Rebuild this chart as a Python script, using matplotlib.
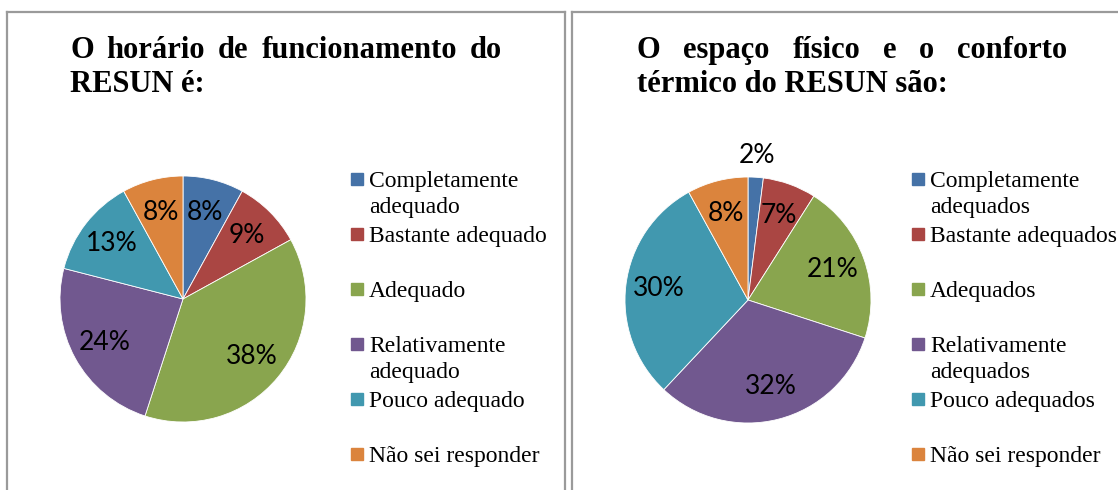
import numpy as np
import matplotlib.pyplot as plt
from matplotlib.patches import Rectangle
from matplotlib.lines import Line2D

W, H = 1118, 490

cores = ["#4572A7", "#AA4643", "#89A54E", "#71588F", "#4198AF", "#DB843D"]

horario_titulo = ["O horário de funcionamento do", "RESUN é:"]
horario_rotulos = ["Completamente\nadequado", "Bastante adequado", "Adequado",
                   "Relativamente\nadequado", "Pouco adequado", "Não sei responder"]
horario_pct = [8, 9, 38, 24, 13, 8]

espaco_titulo = ["O espaço físico e o conforto", "térmico do RESUN são:"]
espaco_rotulos = ["Completamente\nadequados", "Bastante adequados", "Adequados",
                  "Relativamente\nadequados", "Pouco adequados", "Não sei responder"]
espaco_pct = [2, 7, 21, 32, 30, 8]

fig = plt.figure(figsize=(W / 100, H / 100), dpi=100)
renderer = fig.canvas.get_renderer()


def px(x, y):
    # pixels a partir do canto superior esquerdo -> fração da figura
    return x / W, 1 - y / H


def linha(x0, y0, x1, y1):
    (a, b), (c, d) = px(x0, y0), px(x1, y1)
    fig.add_artist(Line2D([a, c], [b, d], transform=fig.transFigure,
                          color="#9a9a9a", linewidth=1.6))


# molduras dos dois quadros
linha(7, 12, 7, H)
linha(7, 12, 565, 12)
linha(565, 12, 565, H)
linha(572, 12, 572, H)
linha(572, 12, W, 12)

fonte_titulo = dict(fontfamily="Liberation Serif", fontweight="bold", fontsize=22, va="baseline")


def titulo(linhas, x0, x1):
    # primeira linha justificada, segunda alinhada à esquerda
    palavras = linhas[0].split()
    objs = [fig.text(0, 0, p, **fonte_titulo) for p in palavras]
    larguras = [o.get_window_extent(renderer).width for o in objs]
    vao = (x1 - x0 - sum(larguras)) / (len(objs) - 1)
    x = x0
    for o, l in zip(objs, larguras):
        o.set_position(px(x, 58))
        x += l + vao
    fig.text(*px(x0, 92), linhas[1], **fonte_titulo)


def pizza(cx, cy, valores, rotulos, leg_x):
    r = 123
    ax = fig.add_axes([(cx - r) / W, (H - cy - r) / H, 2 * r / W, 2 * r / H])
    fatias, _, pcts = ax.pie(
        valores, colors=cores, startangle=90, counterclock=False,
        autopct=lambda p: f"{p:.0f}%", pctdistance=0.73,
        wedgeprops=dict(edgecolor="white", linewidth=0.6),
        textprops=dict(fontfamily="Lato", fontsize=19, color="black"))
    # rótulo de fatia muito pequena fica do lado de fora
    for f, t, v in zip(fatias, pcts, valores):
        if v < 5:
            ang = np.deg2rad((f.theta1 + f.theta2) / 2)
            t.set_position((1.18 * np.cos(ang), 1.18 * np.sin(ang)))
    ax.set_xlim(-1, 1)
    ax.set_ylim(-1, 1)

    # legenda
    for i, (rot, cor) in enumerate(zip(rotulos, cores)):
        yc = 179 + 55 * i
        fig.add_artist(Rectangle(px(leg_x, yc + 6), 12 / W, 12 / H,
                                 transform=fig.transFigure, color=cor))
        fig.text(*px(leg_x + 18, yc - 8), rot, fontfamily="Liberation Serif",
                 fontsize=17, va="top", linespacing=1.3)


titulo(horario_titulo, 70, 502)
pizza(183, 299, horario_pct, horario_rotulos, 351)

titulo(espaco_titulo, 637, 1067)
pizza(748, 300, espaco_pct, espaco_rotulos, 912)

fig.savefig("out.png", dpi=100)
